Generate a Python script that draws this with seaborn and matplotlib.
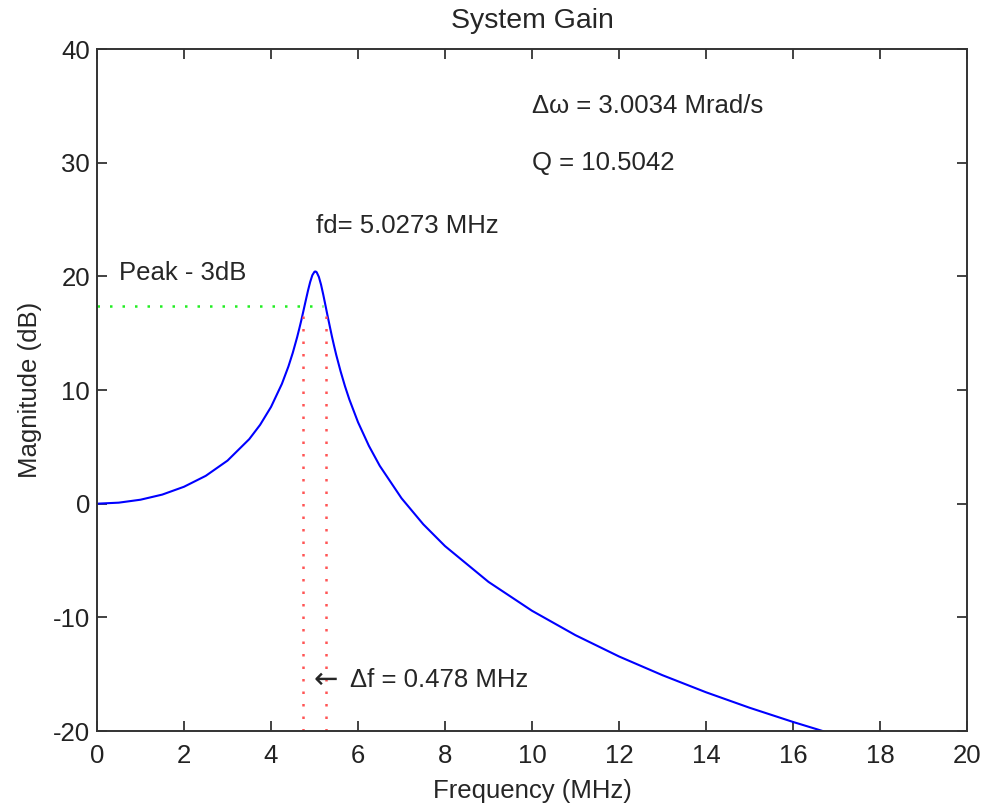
import matplotlib
matplotlib.use('Agg')
import matplotlib.pyplot as plt
import numpy as np
import pandas as pd
import seaborn as sns

# frequency response
freq_mhz = [0.0, 0.5, 1.0, 1.5, 2.0, 2.5, 3.0, 3.5, 3.75, 4.0, 4.25, 4.4, 4.5, 4.6, 4.65,
            4.7, 4.8, 4.85, 4.9, 4.95, 5.0, 5.025, 5.05, 5.1, 5.15, 5.2, 5.25, 5.3, 5.4,
            5.45, 5.5, 5.6, 5.7, 5.8, 6.0, 6.25, 6.5, 7.0, 7.5, 8.0, 9.0, 10.0, 11.0,
            12.0, 13.0, 14.0, 15.0, 16.0, 16.7]
mag_db = [0.0, 0.09, 0.35, 0.80, 1.49, 2.45, 3.79, 5.68, 6.94, 8.51, 10.54, 12.07, 13.27,
          14.64, 15.40, 16.19, 17.90, 18.74, 19.50, 20.10, 20.41, 20.43, 20.36, 19.95,
          19.27, 18.41, 17.48, 16.53, 14.72, 13.88, 13.08, 11.64, 10.34, 9.18, 7.17, 5.09,
          3.33, 0.48, -1.81, -3.73, -6.88, -9.42, -11.57, -13.44, -15.09, -16.59, -17.95,
          -19.20, -20.02]

peak_db = 20.43
half_power_db = 17.43
half_power_span = [0.0, 5.2]
f_low, f_high = 4.74, 5.26

label_dw = 'Δω = 3.0034 Mrad/s'
label_q = 'Q = 10.5042'
label_fd = 'fd= 5.0273 MHz'
label_peak = 'Peak - 3dB'
label_df = 'Δf = 0.478 MHz'

sns.set_style('ticks')
plt.rcParams['font.family'] = ['Liberation Sans', 'DejaVu Sans']
plt.rcParams['axes.unicode_minus'] = False
fs = 18.5

df = pd.DataFrame({'Frequency': freq_mhz, 'Magnitude': mag_db})

fig = plt.figure(figsize=(9.84, 8.10), dpi=100)
ax = fig.add_axes([0.0986, 0.0975, 0.8841, 0.8420])

sns.lineplot(data=df, x='Frequency', y='Magnitude', color='#0000ff', linewidth=1.5,
             ax=ax, sort=False)

# half-power markers
ax.plot(half_power_span, [half_power_db, half_power_db], color='#22ee22',
        linewidth=1.8, dashes=(1, 4))
for f in (f_low, f_high):
    ax.plot([f, f], [-20, half_power_db], color='#ff5555', linewidth=1.8, dashes=(1, 4))

ax.text(10.0, 35.0, label_dw, va='center', ha='left', fontsize=fs)
ax.text(10.0, 30.0, label_q, va='center', ha='left', fontsize=fs)
ax.text(5.0273, peak_db + 4.0, label_fd, va='center', ha='left', fontsize=fs)
ax.text(0.5, peak_db - 0.1, label_peak, va='center', ha='left', fontsize=fs)
ax.text(4.98, -15.5, '←', va='center', ha='left', fontsize=21, family='DejaVu Sans')
ax.text(5.82, -15.5, label_df, va='center', ha='left', fontsize=fs)

ax.set_xlim(0, 20)
ax.set_ylim(-20, 40)
ax.set_xticks(np.arange(0, 21, 2))
ax.set_yticks(np.arange(-20, 41, 10))
ax.tick_params(direction='in', length=7, width=1.2, top=True, right=True,
               labelsize=fs, colors='#222222')
ax.tick_params(axis='x', pad=9)
ax.tick_params(axis='y', pad=5)
for s in ax.spines.values():
    s.set_linewidth(1.4)
    s.set_color('#333333')

ax.set_title('System Gain', fontsize=20.5, pad=15)
ax.set_xlabel('Frequency (MHz)', fontsize=fs, labelpad=8)
ax.set_ylabel('Magnitude (dB)', fontsize=fs, labelpad=8)

fig.savefig('out.png', dpi=100, facecolor='white')
